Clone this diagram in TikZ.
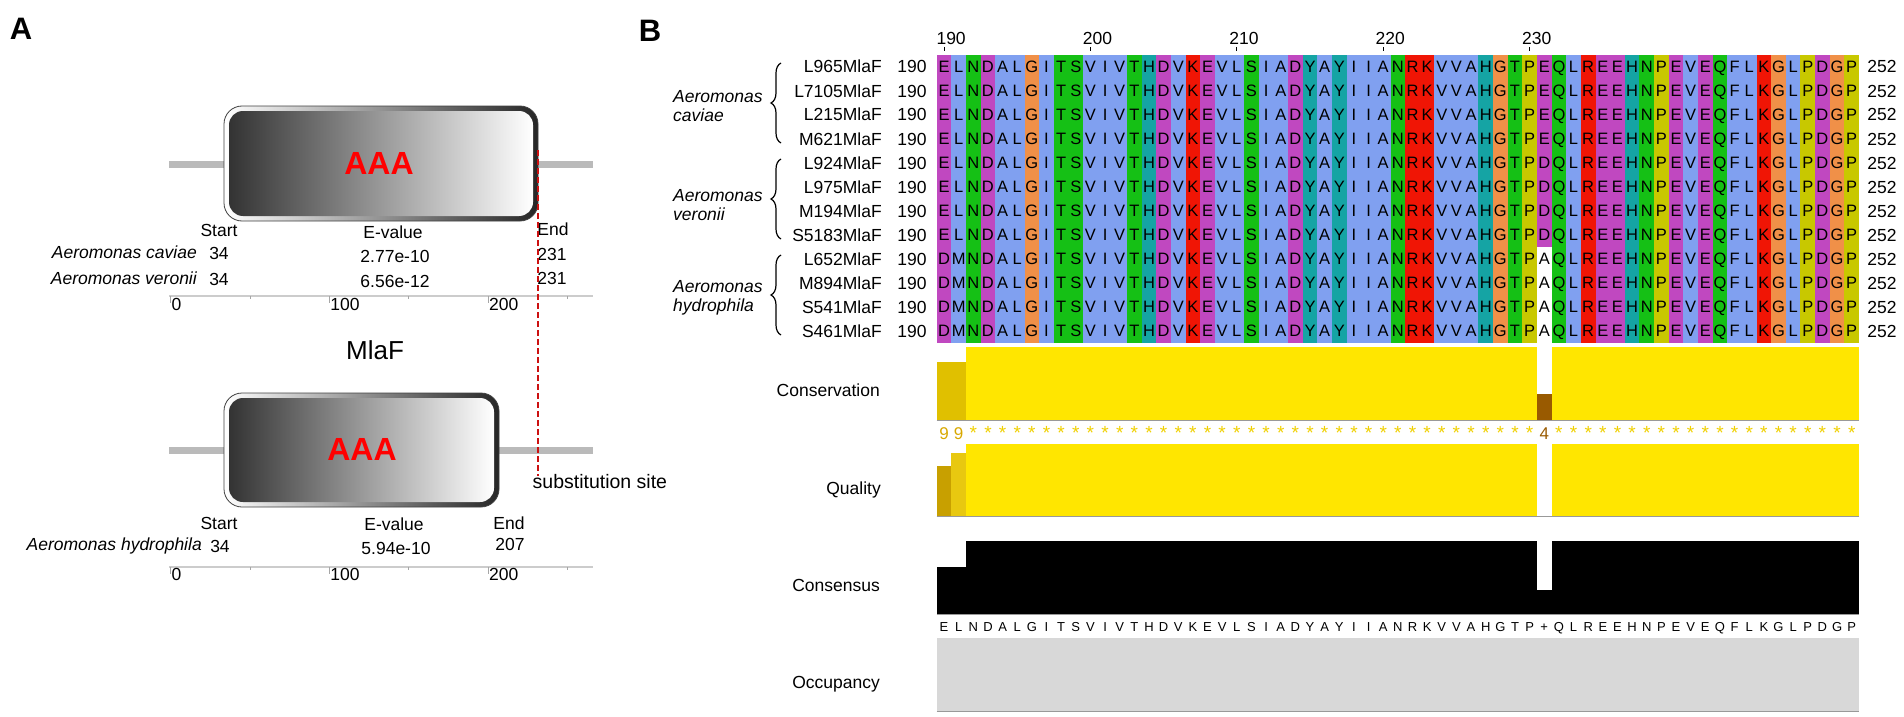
\documentclass[tikz,border=0pt]{standalone}
\usepackage{fontspec}
\setmainfont{Liberation Sans}
\usepackage{tikz}
\usetikzlibrary{positioning,calc,decorations.pathreplacing}
\newcommand\pxfont[1]{\fontsize{#1}{1.06\dimexpr#1pt\relax}\selectfont}
\definecolor{cxhyd}{HTML}{80A0F0}
\definecolor{cxpos}{HTML}{F01505}
\definecolor{cxpol}{HTML}{15C015}
\definecolor{cxneg}{HTML}{C048C0}
\definecolor{cxgly}{HTML}{F09048}
\definecolor{cxaro}{HTML}{15A4A4}
\definecolor{cxpro}{HTML}{C8C800}
\definecolor{consyel}{HTML}{FFE600}
\definecolor{consdark}{HTML}{E0C000}
\definecolor{qualdark}{HTML}{C8A000}
\definecolor{qualmid}{HTML}{E8C810}
\definecolor{consbrown}{HTML}{995A00}
\definecolor{occgray}{HTML}{D8D8D8}
\definecolor{stargold}{HTML}{F0D000}
\definecolor{numgold}{HTML}{D8A800}
\definecolor{substred}{HTML}{CC1111}
\def\seqcav{E,L,N,D,A,L,G,I,T,S,V,I,V,T,H,D,V,K,E,V,L,S,I,A,D,Y,A,Y,I,I,A,N,R,K,V,V,A,H,G,T,P,E,Q,L,R,E,E,H,N,P,E,V,E,Q,F,L,K,G,L,P,D,G,P}
\def\seqver{E,L,N,D,A,L,G,I,T,S,V,I,V,T,H,D,V,K,E,V,L,S,I,A,D,Y,A,Y,I,I,A,N,R,K,V,V,A,H,G,T,P,D,Q,L,R,E,E,H,N,P,E,V,E,Q,F,L,K,G,L,P,D,G,P}
\def\seqhyd{D,M,N,D,A,L,G,I,T,S,V,I,V,T,H,D,V,K,E,V,L,S,I,A,D,Y,A,Y,I,I,A,N,R,K,V,V,A,H,G,T,P,A,Q,L,R,E,E,H,N,P,E,V,E,Q,F,L,K,G,L,P,D,G,P}
\def\seqcons{E,L,N,D,A,L,G,I,T,S,V,I,V,T,H,D,V,K,E,V,L,S,I,A,D,Y,A,Y,I,I,A,N,R,K,V,V,A,H,G,T,P,+,Q,L,R,E,E,H,N,P,E,V,E,Q,F,L,K,G,L,P,D,G,P}
\def\colcols{cxneg,cxhyd,cxpol,cxneg,cxhyd,cxhyd,cxgly,cxhyd,cxpol,cxpol,cxhyd,cxhyd,cxhyd,cxpol,cxaro,cxneg,cxhyd,cxpos,cxneg,cxhyd,cxhyd,cxpol,cxhyd,cxhyd,cxneg,cxaro,cxhyd,cxaro,cxhyd,cxhyd,cxhyd,cxpol,cxpos,cxpos,cxhyd,cxhyd,cxhyd,cxaro,cxgly,cxpol,cxpro,cxneg,cxpol,cxhyd,cxpos,cxneg,cxneg,cxaro,cxpol,cxpro,cxneg,cxhyd,cxneg,cxpol,cxhyd,cxhyd,cxpos,cxgly,cxhyd,cxpro,cxneg,cxgly,cxpro}

\begin{document}
\begin{tikzpicture}[
    x=1pt, y=-1pt,
    panel/.style={inner sep=0, font=\pxfont{31}\bfseries},
    lab/.style={inner sep=0, text height=12pt, text depth=0pt, font=\pxfont{17.5}},
    species/.style={lab, anchor=east, font=\pxfont{17.5}\itshape},
    backbone/.style={line width=7pt, draw=black!27},
    rim/.style={rounded corners=18pt, left color=white, right color=black!85, draw=black!75, line width=0.8pt},
    body/.style={rounded corners=14pt, left color=black!80, right color=white},
    aaabox/.style={inner sep=0, text=red, font=\pxfont{32}\bfseries},
    axisline/.style={draw=black!20, line width=2pt},
    axtick/.style={draw=black!35, line width=1pt},
    subst/.style={draw=substred, line width=2pt, dash pattern=on 6pt off 3pt},
    res/.style={inner sep=0, text height=11.5pt, text depth=0pt, font=\pxfont{16.5}},
    seqname/.style={lab, anchor=east},
    group/.style={inner sep=0, anchor=west, align=left, font=\pxfont{17.5}\itshape},
    brace/.style={decorate, decoration={brace, amplitude=10pt}, line width=1.2pt},
    track/.style={lab, anchor=east},
    baseln/.style={draw=black!40, line width=1pt},
    starmark/.style={inner sep=0, anchor=base, font=\pxfont{19}, text=stargold},
    cons/.style={inner sep=0, text height=9pt, text depth=0pt, font=\pxfont{13}}
]
\useasboundingbox (0,0) rectangle (1904,717);

% ---------- panel A ----------
\node[panel] (pA) at (21,29) {A};

% top domain (A. caviae / A. veronii)
\draw[backbone] (169,164) -- (593,164);
\shadedraw[rim] (224,106) rectangle (538,221);
\shade[body] (229,111) rectangle (533,216);
\node[aaabox] (aaa1) at (379,163) {AAA};

\node[lab] (st1) at (219,230) {Start};
\node[lab] (ev1) at (393,232) {E-value};
\node[lab] (en1) at (553,229) {End};
\node[species] (cav) at (197,252) {Aeromonas caviae};
\node[lab] (cav34) at (219,253) {34};
\node[lab] (cavev) at (395,256) {2.77e-10};
\node[lab] (caven) at (552,254) {231};
\node[species] (ver) at (197,278) {Aeromonas veronii};
\node[lab] (ver34) at (219,279) {34};
\node[lab] (verev) at (395,281) {6.56e-12};
\node[lab] (veren) at (552,278) {231};

\draw[axisline] (169,296) -- (593,296);
\foreach \v in {0,100,200} {
    \draw[axtick] ({170.7+1.587*\v},296) -- ({170.7+1.587*\v},303);
    \node[lab, anchor=west] (ax1-\v) at ({171.5+1.587*\v},304) {\v};
}
\foreach \v in {50,150,250}
    \draw[axtick] ({170.7+1.587*\v},296) -- ({170.7+1.587*\v},299);

\node[inner sep=0, font=\pxfont{26}] (mlaf) at (375,350) {MlaF};

% bottom domain (A. hydrophila)
\draw[backbone] (169,450) -- (593,450);
\shadedraw[rim] (224,393) rectangle (499,507);
\shade[body] (229,398) rectangle (494,502);
\node[aaabox] (aaa2) at (362,449) {AAA};

\node[lab] (st2) at (219,523) {Start};
\node[lab] (ev2) at (394,524) {E-value};
\node[lab] (en2) at (509,523) {End};
\node[species] (hyd) at (202,544) {Aeromonas hydrophila};
\node[lab] (hyd34) at (220,546) {34};
\node[lab] (hydev) at (396,548) {5.94e-10};
\node[lab] (hyden) at (510,544) {207};

\draw[axisline] (169,567) -- (593,567);
\foreach \v in {0,100,200} {
    \draw[axtick] ({170.7+1.587*\v},567) -- ({170.7+1.587*\v},574);
    \node[lab, anchor=west] (ax2-\v) at ({171.5+1.587*\v},574) {\v};
}
\foreach \v in {50,150,250}
    \draw[axtick] ({170.7+1.587*\v},567) -- ({170.7+1.587*\v},570);

% substitution site
\coordinate (subtop) at (537.7,150);
\node[lab, anchor=west, font=\pxfont{19.5}] (subst) at (532.5,482) {substitution site};
\draw[subst] (subtop) -- (subtop |- subst.north);

% ---------- panel B ----------
\node[panel] (pB) at (650,31) {B};

% column colours
\foreach \cl [count=\i] in \colcols
    \fill[\cl] ({936.7+(\i-1)*14.64},55) rectangle ({936.7+\i*14.64+0.3},343);
\fill[white] ({936.7+41*14.64},247) rectangle ({936.7+42*14.64},343);

% position ruler
\foreach \k in {0,10,20,30,40} {
    \pgfmathtruncatemacro\rulnum{190+\k}
    \draw[line width=1pt] ({936.7+(\k+0.5)*14.64},47) -- ({936.7+(\k+0.5)*14.64},51);
    \node[lab, anchor=west] (rul\k) at ({929+(\k+0.5)*14.64},39) {\rulnum};
}

% sequence names and ends
\foreach \nm [count=\r] in {L965MlaF,L7105MlaF,L215MlaF,M621MlaF,L924MlaF,L975MlaF,M194MlaF,S5183MlaF,L652MlaF,M894MlaF,S541MlaF,S461MlaF} {
    \node[seqname] (n\r) at (882,{55+(\r-0.5)*24}) {\nm};
    \node[lab] (b\r) at (912,{55+(\r-0.5)*24}) {190};
    \node[lab] (e\r) at (1882,{55+(\r-0.5)*24}) {252};
}

% residues
\foreach \r in {1,...,4}
    \foreach \c [count=\i] in \seqcav
        \node[res] (a\r-\i) at ({936.7+(\i-0.5)*14.64},{55+(\r-0.5)*24}) {\c};
\foreach \r in {5,...,8}
    \foreach \c [count=\i] in \seqver
        \node[res] (a\r-\i) at ({936.7+(\i-0.5)*14.64},{55+(\r-0.5)*24}) {\c};
\foreach \r in {9,...,12}
    \foreach \c [count=\i] in \seqhyd
        \node[res] (a\r-\i) at ({936.7+(\i-0.5)*14.64},{55+(\r-0.5)*24}) {\c};

% species braces
\draw[brace] (781,143) -- (781,63);
\draw[brace] (781,239) -- (781,159);
\draw[brace] (781,335) -- (781,255);
\node[group] (gcav) at (673,106) {Aeromonas\\caviae};
\node[group] (gver) at (673,205) {Aeromonas\\veronii};
\node[group] (ghyd) at (673,298) {Aeromonas\\hydrophila};

% conservation
\fill[consdark] (936.7,361.7) rectangle (966,420);
\fill[consyel] (966,346.7) rectangle (1536.9,420);
\fill[consbrown] (1536.9,394.3) rectangle (1551.6,420);
\fill[consyel] (1551.6,346.7) rectangle (1859,420);
\draw[baseln] (936.7,420) -- (1859,420);
\node[track] (tcons) at (880,390) {Conservation};
\foreach \i in {1,2}
    \node[starmark, text=numgold, font=\pxfont{17}] (cs\i) at ({936.7+(\i-0.5)*14.64},439) {9};
\node[starmark, text=consbrown, font=\pxfont{17}] (cs42) at ({936.7+41.5*14.64},439) {4};
\foreach \i in {3,...,63} {
    \ifnum\i=42\else
        \node[starmark] (cs\i) at ({936.7+(\i-0.5)*14.64},439) {*};
    \fi
}

% quality
\fill[qualdark] (936.7,465.7) rectangle (951.3,516.7);
\fill[qualmid] (951.3,452.7) rectangle (966,516.7);
\fill[consyel] (966,444) rectangle (1536.9,516.7);
\fill[consyel] (1551.6,444) rectangle (1859,516.7);
\draw[baseln] (936.7,516.7) -- (1859,516.7);
\node[track] (tqual) at (881,488) {Quality};

% consensus
\fill[black] (936.7,566.7) rectangle (966,614.3);
\fill[black] (966,541) rectangle (1536.9,614.3);
\fill[black] (1536.9,590) rectangle (1551.6,614.3);
\fill[black] (1551.6,541) rectangle (1859,614.3);
\draw[baseln] (936.7,614.3) -- (1859,614.3);
\node[track] (tcon) at (880,585) {Consensus};
\foreach \c [count=\i] in \seqcons
    \node[cons] (k\i) at ({936.7+(\i-0.5)*14.64},626.5) {\c};

% occupancy
\fill[occgray] (936.7,637.7) rectangle (1859,711.7);
\draw[baseln] (936.7,711.7) -- (1859,711.7);
\node[track] (tocc) at (880,682) {Occupancy};
\end{tikzpicture}
\end{document}
